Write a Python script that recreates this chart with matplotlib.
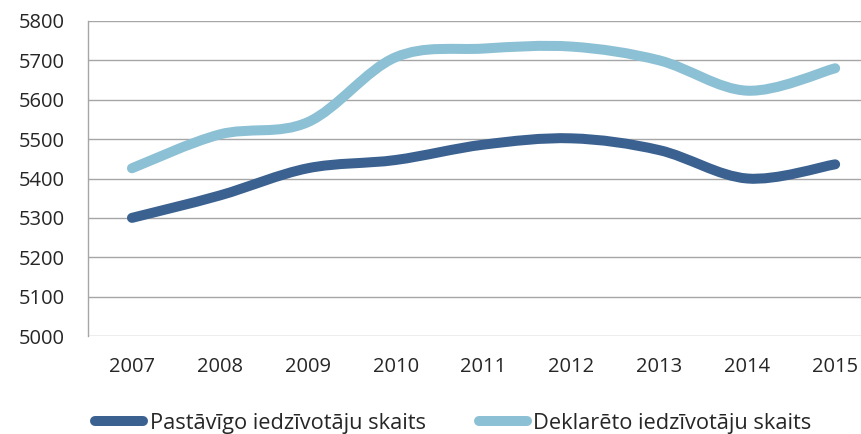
import matplotlib
matplotlib.use("Agg")
import matplotlib.pyplot as plt
from matplotlib.path import Path
from matplotlib.patches import PathPatch
from matplotlib.lines import Line2D

years = ["2007", "2008", "2009", "2010", "2011", "2012", "2013", "2014", "2015"]
pastavigo = [5300, 5357, 5426, 5447, 5486, 5502, 5472, 5400, 5436]
deklareto = [5426, 5512, 5543, 5708, 5730, 5735, 5700, 5623, 5680]
series_names = ["Pastāvīgo iedzīvotāju skaits", "Deklarēto iedzīvotāju skaits"]
colors = ["#3A6190", "#8CC0D4"]
yticks = [5000, 5100, 5200, 5300, 5400, 5500, 5600, 5700, 5800]

plt.rcParams['font.family'] = ['Open Sans', 'DejaVu Sans']
FS = 14.5
LFS = 15.7

fig = plt.figure(figsize=(8.62, 4.34), dpi=100)
ax = fig.add_axes([88/862, (434-336)/434, 1 - 88/862, (336-21)/434])

def smooth_path(xs, ys):
    pts = list(zip(xs, ys))
    n = len(pts)
    verts = [pts[0]]
    codes = [Path.MOVETO]
    for i in range(n - 1):
        p0 = pts[i - 1] if i > 0 else pts[i]
        p1 = pts[i]
        p2 = pts[i + 1]
        p3 = pts[i + 2] if i + 2 < n else pts[i + 1]
        c1 = (p1[0] + (p2[0] - p0[0]) / 6, p1[1] + (p2[1] - p0[1]) / 6)
        c2 = (p2[0] - (p3[0] - p1[0]) / 6, p2[1] - (p3[1] - p1[1]) / 6)
        verts += [c1, c2, p2]
        codes += [Path.CURVE4] * 3
    return Path(verts, codes)

xs = list(range(len(years)))
for vals, col in zip([pastavigo, deklareto], colors):
    patch = PathPatch(smooth_path(xs, vals), facecolor='none', edgecolor=col,
                      lw=7.2, capstyle='round', joinstyle='round', zorder=3)
    ax.add_patch(patch)

ax.set_xlim(-0.5, -0.5 + (862 - 88) / 87.9)
ax.set_ylim(5000, 5800)
ax.set_yticks(yticks)
ax.set_xticks(xs)
ax.set_xticklabels(years)
ax.yaxis.grid(True, color='#A6A6A6', lw=1.0)
ax.set_axisbelow(True)
for s in ['top', 'right', 'bottom']:
    ax.spines[s].set_visible(False)
ax.spines['left'].set_color('#A6A6A6')
ax.spines['left'].set_linewidth(1.0)
ax.tick_params(axis='both', length=0, labelsize=FS, colors='#262626')
ax.tick_params(axis='y', pad=17)
ax.tick_params(axis='x', pad=15)

handles = [Line2D([0], [0], color=c, lw=7.2, solid_capstyle='round') for c in colors]
fig.legend(handles, series_names, loc='center left',
           bbox_to_anchor=(95/862, (434-423)/434), ncol=2, frameon=False,
           fontsize=LFS, handlelength=2.2, handletextpad=0.3, columnspacing=2.45,
           borderaxespad=0, borderpad=0, labelcolor='#262626')

fig.savefig("out.png", dpi=100)
